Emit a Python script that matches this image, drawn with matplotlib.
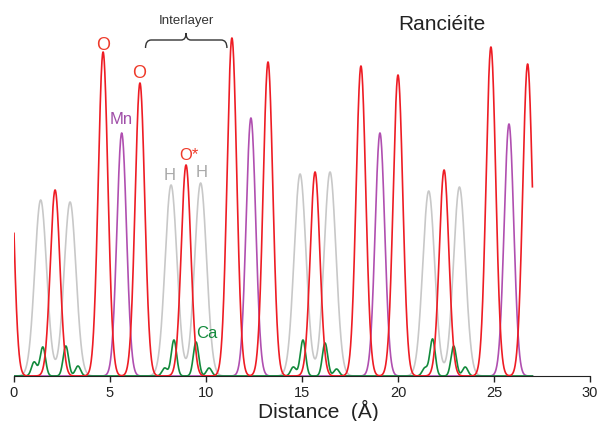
import numpy as np
import matplotlib.pyplot as plt
from matplotlib.path import Path
from matplotlib.patches import PathPatch

plt.rcParams['font.family'] = ['Liberation Sans', 'DejaVu Sans']

##peak data (position in Angstrom, height in arbitrary density units)
o_pos = [-0.30, 2.14, 4.64, 6.56, 8.96, 11.35, 13.23, 15.68, 18.07, 20.00, 22.40, 24.84, 26.75]
o_hgt = [293, 186, 324, 293, 211, 338, 314, 204, 310, 301, 206, 329, 312]
mn_pos = [5.61, 12.34, 19.06, 25.78]
mn_hgt = [243, 258, 243, 252]
h_pos = [1.39, 2.92, 8.18, 9.72, 14.90, 16.46, 21.60, 23.20]
h_hgt = [176, 174, 191, 193, 202, 204, 185, 189]
ca_pos = [1.05, 1.50, 2.70, 3.33, 7.85, 8.33, 9.48, 10.16, 14.55, 15.05, 16.20, 16.80, 21.40, 21.80, 22.90, 23.50]
ca_hgt = [14, 29, 30, 10, 8, 36, 34, 8, 9, 36, 33, 7, 8, 37, 30, 9]

#peak widths (sigma, Angstrom)
sig_o = 0.25
sig_mn = 0.25
sig_h = 0.31
sig_ca = 0.14

x = np.linspace(0, 27, 2701)

def profile(pos, hgt, s):
    y = np.zeros_like(x)
    for p, a in zip(pos, hgt):
        y += a*np.exp(-(x - p)**2/(2*s**2))
    return y

fig = plt.figure(figsize=(5.97, 4.21), dpi=100)
ax = fig.add_axes([14/597, 45/421, 576/597, 366/421])

ax.plot(x, profile(h_pos, h_hgt, sig_h), color='#c8c8c8', lw=1.2)
ax.plot(x, profile(mn_pos, mn_hgt, sig_mn), color='#b04fb0', lw=1.2)
ax.plot(x, profile(ca_pos, ca_hgt, sig_ca), color='#138a3c', lw=1.2)
ax.plot(x, profile(o_pos, o_hgt, sig_o), color='#ee1c24', lw=1.2)

ax.set_xlim(0, 30)
ax.set_ylim(0, 366)
for s in ['top', 'right', 'left']:
    ax.spines[s].set_visible(False)
ax.spines['bottom'].set_color('#222222')
ax.spines['bottom'].set_zorder(0)
ax.set_yticks([])
ax.set_xticks(range(0, 31, 5))
ax.tick_params(axis='x', direction='out', length=4, width=1, labelsize=10.5, colors='#222222', pad=3)
ax.set_xlabel('Distance  (\u00c5)', fontsize=15, color='#222222')
ax.xaxis.label.set_va('center')
ax.xaxis.set_label_coords(0.528, -0.095)

#labels
ax.text(22.3, 352, 'Ranci\u00e9ite', fontsize=15, color='#222222', ha='center', va='center')
ax.text(4.64, 322, 'O', fontsize=13, color='#ee3a2a', ha='center', va='bottom')
ax.text(6.54, 294, 'O', fontsize=13, color='#ee3a2a', ha='center', va='bottom')
ax.text(5.58, 249, 'Mn', fontsize=12, color='#a04ea8', ha='center', va='bottom')
ax.text(9.10, 213, 'O*', fontsize=12, color='#ee3a2a', ha='center', va='bottom')
ax.text(8.12, 193, 'H', fontsize=12, color='#a8a8a8', ha='center', va='bottom')
ax.text(9.75, 196, 'H', fontsize=12, color='#a8a8a8', ha='center', va='bottom')
ax.text(10.05, 35, 'Ca', fontsize=12, color='#138a3c', ha='center', va='bottom')

#interlayer brace
ax.text(8.96, 355, 'Interlayer', fontsize=9.5, color='#333333', ha='center', va='center')
xl, xm, xr = 6.85, 8.96, 11.09
yb, yl, yt = 328, 336, 343
verts = [(xl, yb), (xl, yl), (xl + 0.3, yl), (xm - 0.25, yl), (xm, yl), (xm, yt),
         (xm, yl), (xm + 0.25, yl), (xr - 0.3, yl), (xr, yl), (xr, yb)]
codes = [Path.MOVETO, Path.CURVE3, Path.CURVE3, Path.LINETO, Path.CURVE3, Path.CURVE3,
         Path.CURVE3, Path.CURVE3, Path.LINETO, Path.CURVE3, Path.CURVE3]
ax.add_patch(PathPatch(Path(verts, codes), fill=False, color='#333333', lw=1.0))

fig.savefig('out.png', dpi=100)
